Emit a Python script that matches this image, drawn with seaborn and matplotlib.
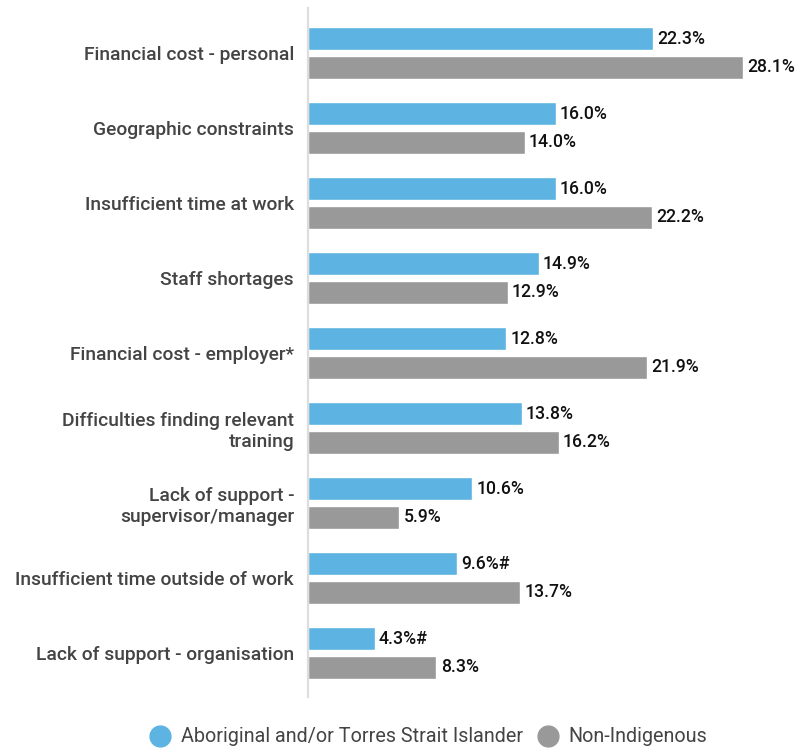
import matplotlib
matplotlib.use("Agg")
import matplotlib.pyplot as plt
from matplotlib.lines import Line2D
import seaborn as sns
import pandas as pd

# Barriers to training, by group (% of respondents)
categories = [
    "Financial cost - personal",
    "Geographic constraints",
    "Insufficient time at work",
    "Staff shortages",
    "Financial cost - employer*",
    "Difficulties finding relevant\ntraining",
    "Lack of support -\nsupervisor/manager",
    "Insufficient time outside of work",
    "Lack of support - organisation",
]
groups = ["Aboriginal and/or Torres Strait Islander", "Non-Indigenous"]
indigenous = [22.3, 16.0, 16.0, 14.9, 12.8, 13.8, 10.6, 9.6, 4.3]
non_indigenous = [28.1, 14.0, 22.2, 12.9, 21.9, 16.2, 5.9, 13.7, 8.3]
indigenous_labels = ["22.3%", "16.0%", "16.0%", "14.9%", "12.8%", "13.8%", "10.6%", "9.6%#", "4.3%#"]
non_indigenous_labels = ["28.1%", "14.0%", "22.2%", "12.9%", "21.9%", "16.2%", "5.9%", "13.7%", "8.3%"]

colors = {groups[0]: "#5DB4E2", groups[1]: "#999999"}

df = pd.DataFrame({
    "category": categories * 2,
    "group": [groups[0]] * len(categories) + [groups[1]] * len(categories),
    "value": indigenous + non_indigenous,
})

sns.set_theme(style="white")
plt.rcParams["font.family"] = ["Roboto", "DejaVu Sans"]

W, H = 795, 749
fig = plt.figure(figsize=(W / 100, H / 100), dpi=100)
ax_left, ax_bottom, ax_top = 308, 697, 8
ax = fig.add_axes([ax_left / W, 1 - ax_bottom / H, (785 - ax_left) / W, (ax_bottom - ax_top) / H])

sns.barplot(
    data=df, y="category", x="value", hue="group", order=categories,
    hue_order=groups, palette=colors, orient="h", width=0.773, gap=0.207,
    saturation=1, legend=False, ax=ax,
)

px_per_unit = 75.0
ax.set_ylim(8 + (ax_bottom - 653) / px_per_unit, -(53 - ax_top) / px_per_unit)
ax.set_xlim(0, (785 - ax_left) / ((743 - ax_left) / 28.1))

# Value labels at the end of each bar
for container, labels in zip(ax.containers, [indigenous_labels, non_indigenous_labels]):
    ax.bar_label(container, labels=labels, padding=3, fontsize=12.7,
                 fontweight=500, color="#111111")

ax.set_xlabel("")
ax.set_ylabel("")
ax.set_xticks([])
ax.tick_params(axis="y", length=0, pad=10)
for lbl in ax.get_yticklabels():
    lbl.set_fontsize(13.9)
    lbl.set_fontweight(500)
    lbl.set_color("#444444")
    lbl.set_horizontalalignment("right")
    lbl.set_multialignment("right")
    lbl.set_linespacing(1.25)

for side in ["top", "right", "bottom"]:
    ax.spines[side].set_visible(False)
ax.spines["left"].set_color("#DDDDDD")
ax.spines["left"].set_linewidth(1.6)

handles = [
    Line2D([0], [0], marker="o", linestyle="", markersize=15,
           markerfacecolor=colors[g], markeredgecolor=colors[g])
    for g in groups
]
fig.legend(handles, groups, loc="center", bbox_to_anchor=(429 / W, 1 - 737 / H),
           ncol=2, frameon=False, fontsize=14.2, handlelength=1.0,
           handletextpad=0.55, columnspacing=0.76, labelcolor="#444444")

fig.savefig("out.png", dpi=100, facecolor="white")
